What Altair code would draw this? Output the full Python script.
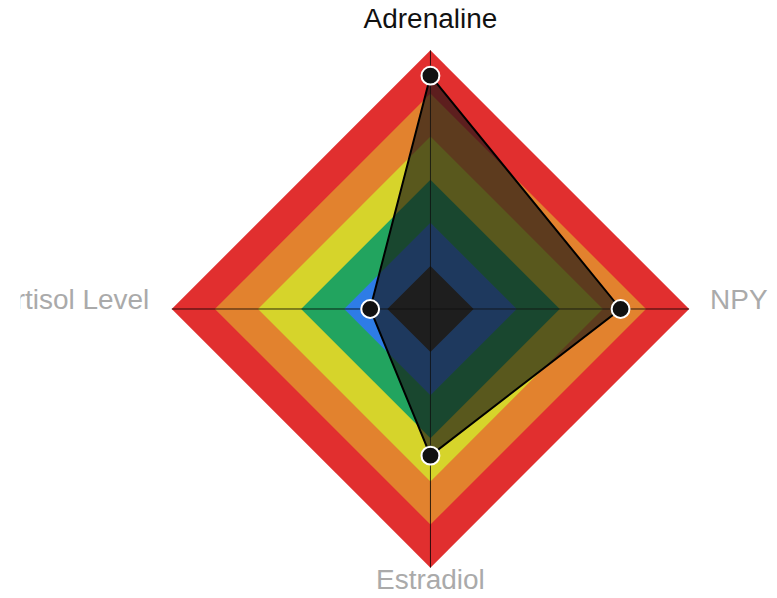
import altair as alt
import numpy as np
import pandas as pd

# ---------------- data ----------------
axis_labels = ["Adrenaline", "NPY", "Estradiol", "Cortisol Level"]
values = [0.902, 0.735, 0.567, 0.233]
max_value = 1.0
n_levels = 6
# band colours, outermost first
band_colors = ["#e12f2f", "#e2822e", "#d6d42b", "#22a45f", "#2e7ce6", "#2e2e2e"]

# ---------------- geometry helpers ----------------
n_axes = len(axis_labels)
angles = [i * 2 * np.pi / n_axes for i in range(n_axes)]  # clockwise from top


def polar(r, a):
    return r * np.sin(a), r * np.cos(a)


# layout (pixels): page center (431, 309), outer radius 259 px
PX = 259.0
LEFT, RIGHT, TOP, BOTTOM = 20.4, 770, 8, 590
CX, CY = 431, 309
W = RIGHT - LEFT
H = BOTTOM - TOP
x_dom = [-(CX - LEFT) / PX, (RIGHT - CX) / PX]
y_dom = [-(BOTTOM - CY) / PX, (CY - TOP) / PX]

X = alt.X("x:Q", scale=alt.Scale(domain=x_dom, nice=False, zero=False), axis=None)
Y = alt.Y("y:Q", scale=alt.Scale(domain=y_dom, nice=False, zero=False), axis=None)

layers = []

# background bands (outer to inner)
for k, col in enumerate(band_colors):
    r = (n_levels - k) / n_levels * max_value
    rows = []
    for j in range(n_axes + 1):
        a = angles[j % n_axes]
        x, y = polar(r, a)
        rows.append({"x": x, "y": y, "o": j})
    layers.append(
        alt.Chart(pd.DataFrame(rows))
        .mark_line(filled=True, fill=col, strokeWidth=0, opacity=1)
        .encode(x=X, y=Y, order="o:Q")
    )

# axis spokes
spoke_rows = []
for i, a in enumerate(angles):
    x, y = polar(max_value, a)
    spoke_rows.append({"x": 0.0, "y": 0.0, "x2": x, "y2": y, "axis": axis_labels[i]})
spokes = pd.DataFrame(spoke_rows)
layers.append(
    alt.Chart(spokes)
    .mark_rule(color="#000000", strokeWidth=1, opacity=0.8)
    .encode(x=X, y=Y, x2="x2:Q", y2="y2:Q")
)

# data polygon
poly_rows = []
for j in range(n_axes + 1):
    i = j % n_axes
    x, y = polar(values[i], angles[i])
    poly_rows.append({"x": x, "y": y, "o": j, "axis": axis_labels[i], "value": values[i]})
poly = pd.DataFrame(poly_rows)
layers.append(
    alt.Chart(poly)
    .mark_line(filled=True, fill="#161616", fillOpacity=0.65, strokeWidth=0)
    .encode(x=X, y=Y, order="o:Q")
)
layers.append(
    alt.Chart(poly)
    .mark_line(color="#000000", strokeWidth=2)
    .encode(x=X, y=Y, order="o:Q")
)
layers.append(
    alt.Chart(poly.iloc[:n_axes])
    .mark_point(shape="circle", filled=True, fill="#111111", stroke="#ffffff",
                strokeWidth=2, size=320, opacity=1)
    .encode(x=X, y=Y)
)

# axis labels
label_style = [
    dict(align="center", dx=0, dy=-22, color="#111111"),
    dict(align="left", dx=21, dy=0, color="#aaaaaa"),
    dict(align="center", dx=0, dy=21.5, color="#aaaaaa"),
    dict(align="right", dx=-22.5, dy=0, color="#aaaaaa"),
]
for i, lab in enumerate(axis_labels):
    x, y = polar(max_value, angles[i])
    st = label_style[i]
    layers.append(
        alt.Chart(pd.DataFrame([{"x": x, "y": y, "label": lab}]))
        .mark_text(font="Liberation Sans", fontSize=28, baseline="alphabetic",
                   align=st["align"], dx=st["dx"], dy=st["dy"], color=st["color"],
                   clip=True)
        .encode(x=X, y=Y, text="label:N")
    )

chart = (
    alt.layer(*layers)
    .properties(
        width=W,
        height=H,
        padding={"left": LEFT - 8, "top": TOP - 8, "right": 0, "bottom": 0},
        autosize=alt.AutoSizeParams(type="none"),
        background="#ffffff",
    )
    .configure_view(stroke=None)
)

chart.save("out.html", embed_options={"renderer": "svg", "actions": False})
